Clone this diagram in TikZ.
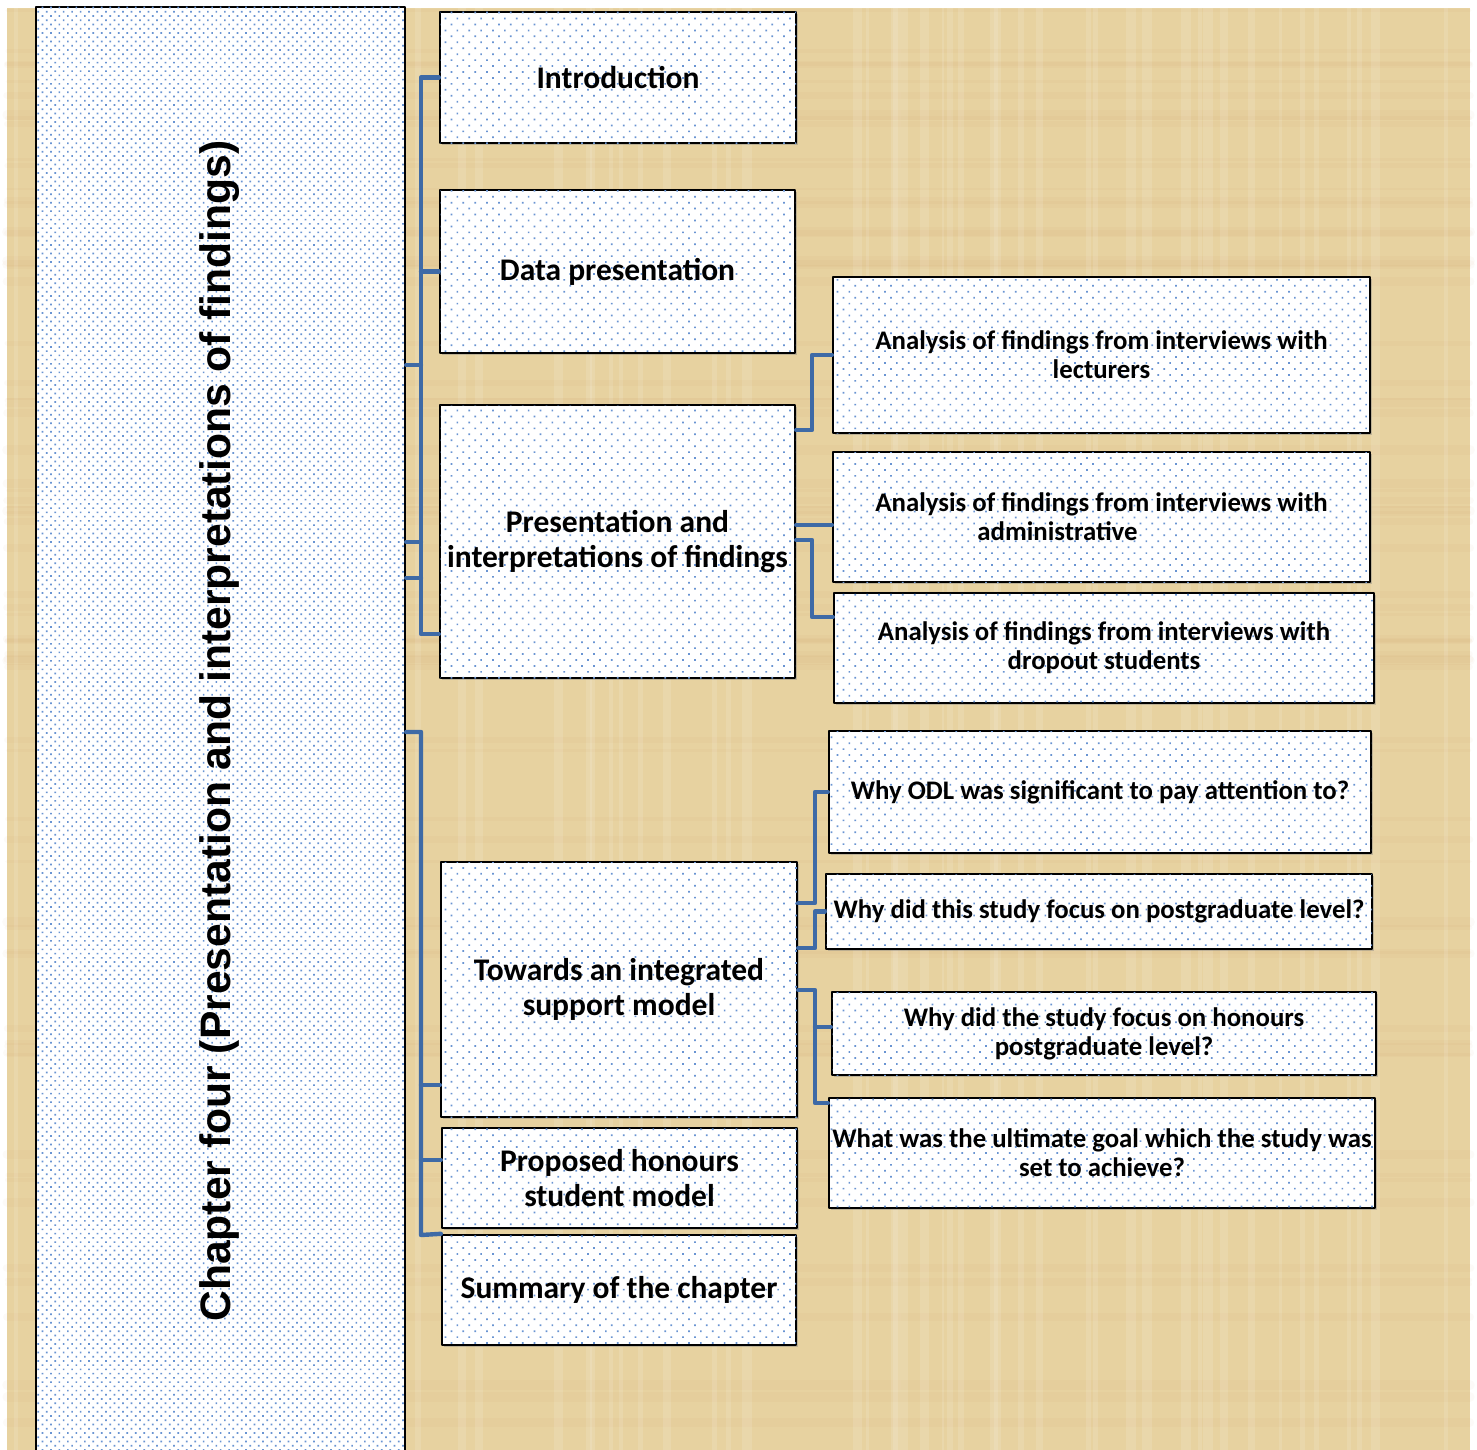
\documentclass[tikz,border=0pt]{standalone}
\usepackage{fontspec}
\setmainfont{Carlito}
\newfontfamily\titlefont{Liberation Sans}
\usetikzlibrary{patterns.meta,shadows}
\definecolor{papyrus}{RGB}{231,210,160}
\definecolor{linkblue}{RGB}{62,106,166}
\definecolor{dotblue}{RGB}{105,148,210}
\begin{document}
\begin{tikzpicture}[x=0.5pt,y=-0.5pt,line join=round,line cap=round,
    box/.style={draw=black,line width=1.2pt,fill=white,
        drop shadow={shadow xshift=1pt,shadow yshift=-1pt,opacity=.4},
        postaction={pattern={Dots[distance=4.2pt,radius=.6pt,angle=45]},pattern color=dotblue},
        inner sep=2pt,align=center},
    lbox/.style={box,font=\bfseries\fontsize{15.75}{17.5}\selectfont},
    rbox/.style={box,font=\bfseries\fontsize{13.4}{14.6}\selectfont},
    conn/.style={draw=linkblue,line width=2.2pt}]
    \useasboundingbox (0,0) rectangle (1477,1450);
    \fill[papyrus] (7,8) rectangle (1470,1452);
    % papyrus fibres
    \pgfmathsetseed{7}
    \foreach \i in {1,...,70}{
        \pgfmathsetmacro\px{10+1455*rnd}
        \pgfmathsetmacro\pw{1+4*rnd}
        \draw[white,opacity=.12,line width=\pw] (\px,8) -- (\px,1450);
        \pgfmathsetmacro\py{10+1435*rnd}
        \pgfmathsetmacro\ph{1+4*rnd}
        \draw[brown,opacity=.04,line width=\ph] (7,\py) -- (1470,\py);
    }
    % left column
    \node[draw=black,line width=1.2pt,fill=white,
        postaction={pattern={Dots[distance=3pt,radius=.6pt,angle=45]},pattern color=dotblue},
        minimum width=184.5pt,minimum height=722.5pt] (chap) at (220.5,729.5) {};
    \node[rotate=90,font=\titlefont\bfseries\fontsize{21.3}{24}\selectfont] (title) at (220,731)
        {Chapter four (Presentation and interpretations of findings)};
    % sections
    \node[lbox,minimum width=178pt,minimum height=65.5pt] (intro) at (618,77.5) {Introduction};
    \node[lbox,minimum width=177.5pt,minimum height=81.5pt] (data) at (617.5,271.5) {Data presentation};
    \node[lbox,minimum width=177.5pt,minimum height=136.5pt] (pres) at (617.5,541.5)
        {Presentation and\\interpretations of findings};
    \node[lbox,minimum width=178pt,minimum height=127.5pt] (tow) at (619,989.5)
        {Towards an integrated\\support model};
    \node[lbox,minimum width=177.5pt,minimum height=50pt] (prop) at (619.5,1178)
        {Proposed honours\\student model};
    \node[lbox,minimum width=177pt,minimum height=55pt] (summ) at (619,1290) {Summary of the chapter};
    % sub sections
    \node[rbox,minimum width=268.5pt,minimum height=78pt] (lect) at (1101.5,355)
        {Analysis of findings from interviews with\\lecturers};
    \node[rbox,minimum width=268.5pt,minimum height=65pt] (admin) at (1101.5,517)
        {Analysis of findings from interviews with\\administrative\hspace*{44pt}};
    \node[rbox,minimum width=270pt,minimum height=55pt] (drop) at (1104,648)
        {Analysis of findings from interviews with\\dropout students};
    \node[rbox,minimum width=271pt,minimum height=61pt] (odl) at (1100,792)
        {Why ODL was significant to pay attention to?};
    \node[rbox,minimum width=273pt,minimum height=37.5pt,inner sep=0pt] (post) at (1099,911.5)
        {Why did this study focus on postgraduate level?};
    \node[rbox,minimum width=272pt,minimum height=41.5pt] (hon) at (1104,1033.5)
        {Why did the study focus on honours\\postgraduate level?};
    \node[rbox,minimum width=273pt,minimum height=55pt,inner sep=0pt] (ult) at (1102,1153)
        {What was the ultimate goal which the study was\\set to achieve?};
    % connectors
    \coordinate (ta) at (421,634);
    \coordinate (tb) at (421,1235);
    \coordinate (xa) at (812,0);
    \coordinate (xb) at (815,0);
    \draw[conn] (intro.west) -| (ta) -- (pres.west |- ta);
    \draw[conn] (data.west) -- (data.west -| ta);
    \draw[conn] (chap.east |- 0,365) -- (ta |- 0,365);
    \draw[conn] (chap.east |- 0,542) -- (ta |- 0,542);
    \draw[conn] (chap.east |- 0,578) -- (ta |- 0,578);
    \draw[conn] (chap.east |- 0,732) -| (tb) -- (summ.north west);
    \draw[conn] (tow.west |- 0,1085) -- (tb |- 0,1085);
    \draw[conn] (prop.west |- 0,1160) -- (tb |- 0,1160);
    \draw[conn] (pres.east |- 0,430) -- (xa |- 0,430) |- (lect.west);
    \draw[conn] (pres.east |- 0,525) -- (admin.west |- 0,525);
    \draw[conn] (pres.east |- 0,540) -- (xa |- 0,540) |- (drop.west |- 0,617);
    \draw[conn] (tow.east |- 0,903) -- (xb |- 0,903) |- (odl.west);
    \draw[conn] (tow.east |- 0,948) -- (xb |- 0,948) |- (post.west);
    \draw[conn] (tow.east |- 0,990) -- (xb |- 0,990) |- (ult.west |- 0,1103);
    \draw[conn] (xb |- 0,1027) -- (hon.west |- 0,1027);
\end{tikzpicture}
\end{document}
